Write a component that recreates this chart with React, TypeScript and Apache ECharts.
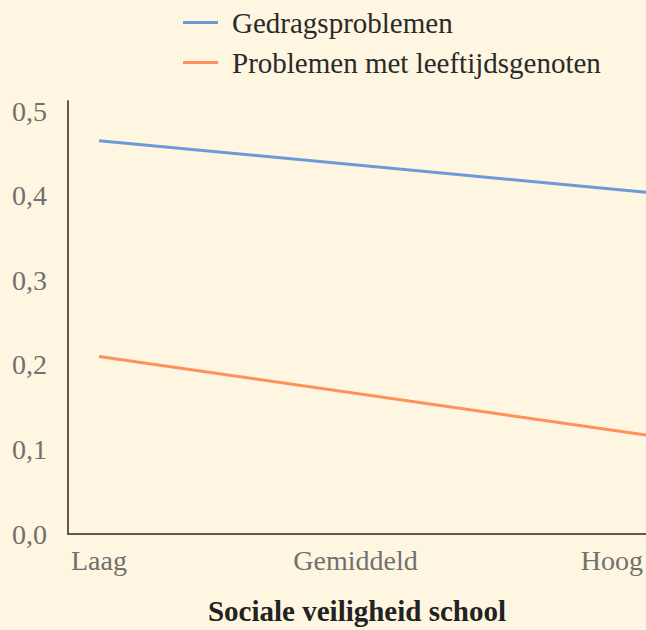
import React, { useEffect, useRef } from "react";
import * as echarts from "echarts";

const categories = ["Laag", "Gemiddeld", "Hoog"];
const categoryPositions = [0, 1, 2];
const yTicks = [0, 0.1, 0.2, 0.3, 0.4, 0.5];
// line values read at Laag (x = 0) and at the visible right edge of the plot
const lineX = [0, 2.133];
const gedragsproblemen = [0.465, 0.404];
const leeftijdsgenoten = [0.21, 0.117];
const seriesNames = ["Gedragsproblemen", "Problemen met leeftijdsgenoten"];
const xAxisTitle = "Sociale veiligheid school";

const FONT = "'Liberation Serif', 'DejaVu Serif', serif";

export default function App() {
  const ref = useRef<HTMLDivElement>(null);
  useEffect(() => {
    document.body.style.margin = "0";
    const chart = echarts.init(ref.current!, null, { renderer: "svg" });
    chart.setOption({
      animation: false,
      backgroundColor: "#fef6e0",
      textStyle: { fontFamily: FONT },
      legend: {
        orient: "vertical",
        left: 183,
        top: 8,
        padding: 0,
        icon: "rect",
        itemWidth: 35,
        itemHeight: 3,
        itemGap: 11,
        textStyle: {
          fontFamily: FONT,
          fontSize: 29,
          color: "#2a2a2a",
          padding: [0, 0, 0, 9],
        },
        data: seriesNames,
      },
      grid: { left: 68, right: 0, top: 101, bottom: 93, containLabel: false },
      xAxis: {
        type: "value",
        min: -0.1209,
        max: 2.133,
        axisLine: { show: true, onZero: false, lineStyle: { color: "#5f5953", width: 2 } },
        axisTick: { show: false },
        splitLine: { show: false },
        axisLabel: {
          customValues: categoryPositions,
          formatter: (v: number) => categories[Math.round(v)] ?? "",
          color: "#707070",
          fontFamily: FONT,
          fontSize: 28,
          margin: 12,
          showMinLabel: true,
          showMaxLabel: true,
        },
        name: xAxisTitle,
        nameLocation: "middle",
        nameGap: 62,
        nameTextStyle: {
          fontFamily: FONT,
          fontSize: 29,
          fontWeight: "bold",
          color: "#222222",
        },
      },
      yAxis: {
        type: "value",
        min: 0,
        max: 0.512,
        axisLine: { show: true, onZero: false, lineStyle: { color: "#5f5953", width: 2 } },
        axisTick: { show: false },
        splitLine: { show: false },
        axisLabel: {
          customValues: yTicks,
          formatter: (v: number) => v.toFixed(1).replace(".", ","),
          color: "#707070",
          fontFamily: FONT,
          fontSize: 28,
          margin: 21,
        },
      },
      series: [
        {
          name: seriesNames[0],
          type: "line",
          symbol: "none",
          lineStyle: { color: "#6b9ad6", width: 3 },
          itemStyle: { color: "#6b9ad6" },
          data: lineX.map((x, i) => [x, gedragsproblemen[i]]),
        },
        {
          name: seriesNames[1],
          type: "line",
          symbol: "none",
          lineStyle: { color: "#fe915e", width: 3 },
          itemStyle: { color: "#fe915e" },
          data: lineX.map((x, i) => [x, leeftijdsgenoten[i]]),
        },
      ],
    });
    return () => chart.dispose();
  }, []);
  return <div ref={ref} style={{ width: 646, height: 630 }} />;
}
